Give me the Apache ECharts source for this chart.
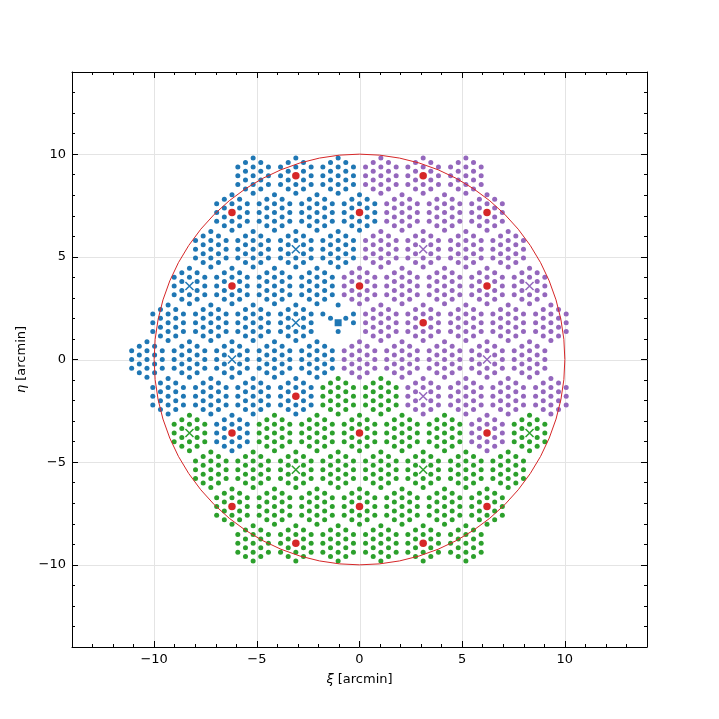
<!DOCTYPE html>
<html>
<head>
<meta charset="utf-8">
<script src="https://cdn.jsdelivr.net/npm/echarts@6/dist/echarts.min.js"></script>
<style>
  html, body { margin: 0; padding: 0; background: #fff; }
  #chart { width: 719px; height: 719px; }
</style>
</head>
<body>
<div id="chart"></div>
<script>
// bundle centres [xi, eta] in arcmin, one list per spectrograph colour
const blueBundles = [
  [-5.18, 8.95], [-3.1, 8.95], [-1.04, 8.95],
  [-6.21, 7.16], [-4.14, 7.16], [-2.07, 7.16], [0, 7.16],
  [-7.24, 5.37], [-5.18, 5.37], [-3.1, 5.37], [-1.04, 5.37],
  [-8.28, 3.58], [-6.21, 3.58], [-4.14, 3.58], [-2.07, 3.58],
  [-9.32, 1.79], [-7.24, 1.79], [-5.18, 1.79], [-3.1, 1.79], [-1.04, 1.79],
  [-10.35, 0], [-8.28, 0], [-6.21, 0], [-4.14, 0], [-2.07, 0],
  [-9.32, -1.79], [-7.24, -1.79], [-5.18, -1.79], [-3.1, -1.79],
  [-6.21, -3.58]
];
const purpleBundles = [
  [1.04, 8.95], [3.1, 8.95], [5.18, 8.95],
  [2.07, 7.16], [4.14, 7.16], [6.21, 7.16],
  [1.04, 5.37], [3.1, 5.37], [5.18, 5.37], [7.24, 5.37],
  [0, 3.58], [2.07, 3.58], [4.14, 3.58], [6.21, 3.58], [8.28, 3.58],
  [1.04, 1.79], [3.1, 1.79], [5.18, 1.79], [7.24, 1.79], [9.32, 1.79],
  [0, 0], [2.07, 0], [4.14, 0], [6.21, 0], [8.28, 0],
  [3.1, -1.79], [5.18, -1.79], [7.24, -1.79], [9.32, -1.79],
  [6.21, -3.58]
];
const greenBundles = [
  [-1.04, -1.79], [1.04, -1.79],
  [-8.28, -3.58], [-4.14, -3.58], [-2.07, -3.58], [0, -3.58], [2.07, -3.58], [4.14, -3.58], [8.28, -3.58],
  [-7.24, -5.37], [-5.18, -5.37], [-3.1, -5.37], [-1.04, -5.37], [1.04, -5.37], [3.1, -5.37], [5.18, -5.37], [7.24, -5.37],
  [-6.21, -7.16], [-4.14, -7.16], [-2.07, -7.16], [0, -7.16], [2.07, -7.16], [4.14, -7.16], [6.21, -7.16],
  [-5.18, -8.95], [-3.1, -8.95], [-1.04, -8.95], [1.04, -8.95], [3.1, -8.95], [5.18, -8.95]
];

// fibre offsets inside one 19-fibre hexagonal bundle (arcmin)
const fibreOffsets = [
  [0, 0],
  [0, 0.43], [0.372, 0.215], [0.372, -0.215], [0, -0.43], [-0.372, -0.215], [-0.372, 0.215],
  [0, 0.86], [0.372, 0.645], [0.745, 0.43], [0.745, 0], [0.745, -0.43], [0.372, -0.645],
  [0, -0.86], [-0.372, -0.645], [-0.745, -0.43], [-0.745, 0], [-0.745, 0.43], [-0.372, 0.645]
];
// the half-empty bundle round the blue square
const sparseOffsets = [
  [0.372, 0.215], [-0.372, 0.215], [0, -0.43],
  [0, 0.86], [0.745, 0.43], [0.745, 0], [-0.745, 0.43]
];

const redCentres = [
  [-3.1, 8.95], [3.1, 8.95],
  [-6.21, 7.16], [0, 7.16], [6.21, 7.16],
  [-6.21, 3.58], [0, 3.58], [6.21, 3.58],
  [3.1, 1.79], [-3.1, -1.79],
  [-6.21, -3.58], [0, -3.58], [6.21, -3.58],
  [-6.21, -7.16], [0, -7.16], [6.21, -7.16],
  [-3.1, -8.95], [3.1, -8.95]
];
const blueCrosses = [[-3.1, 5.37], [-8.28, 3.58], [-6.21, 0], [-3.1, 1.79]];
const purpleCrosses = [[3.1, 5.37], [8.28, 3.58], [6.21, 0], [3.1, -1.79]];
const greenCrosses = [[-8.28, -3.58], [8.28, -3.58], [-3.1, -5.37], [3.1, -5.37]];
const squareCentre = [[-1.04, 1.79]];

const circleRadius = [10];
const majorTicks = [-10, -5, 0, 5, 10];

const BLUE = '#1f77b4', PURPLE = '#9467bd', GREEN = '#2ca02c', RED = '#d62728';
const FONT = 'DejaVu Sans';

const markers = redCentres.concat(blueCrosses, purpleCrosses, greenCrosses);
const same = (a, b) => Math.abs(a[0] - b[0]) < 1e-6 && Math.abs(a[1] - b[1]) < 1e-6;

function buildFibres(bundles) {
    const pts = [];
    bundles.forEach(c => {
        const isSquare = squareCentre.some(s => same(s, c));
        const hasMarker = markers.some(m => same(m, c));
        const offs = isSquare ? sparseOffsets : fibreOffsets;
        offs.forEach(o => {
            if (hasMarker && o[0] === 0 && o[1] === 0) return;
            pts.push([c[0] + o[0], c[1] + o[1]]);
        });
    });
    return pts;
}

const minus = v => (v < 0 ? '\u2212' + Math.abs(v) : String(v));
const crossPath = 'path://M0 0L10 10M0 10L10 0';

// every axis keeps to the frame edge (onZero off), minor ticks every 1
function minorAxis(pos) {
    return {
        type: 'value', min: -14, max: 14, interval: 1, position: pos,
        axisLine: {show: true, onZero: false, lineStyle: {color: '#000', width: 1}},
        axisTick: {show: true, inside: true, length: 3, lineStyle: {color: '#000', width: 1}},
        axisLabel: {show: false},
        splitLine: {show: false}
    };
}
function majorAxis(pos, labels, extra) {
    return Object.assign({
        type: 'value', min: -14, max: 14, position: pos,
        axisLine: {show: false, onZero: false},
        axisTick: {show: true, inside: true, length: 6, customValues: majorTicks, lineStyle: {color: '#000', width: 1}},
        axisLabel: {show: labels, customValues: majorTicks, formatter: minus, color: '#000', fontFamily: FONT, fontSize: 13, margin: 6},
        splitLine: {show: false}
    }, extra || {});
}
const nameStyle = {
    color: '#000', fontFamily: FONT, fontSize: 13,
    rich: {i: {fontStyle: 'italic', fontFamily: FONT, fontSize: 13, color: '#000'}}
};

const chart = echarts.init(document.getElementById('chart'), null, {renderer: 'canvas'});

const option = {
    animation: false,
    backgroundColor: '#fff',
    grid: {left: 72, top: 72, width: 575, height: 575, show: false},
    xAxis: [
        minorAxis('bottom'),
        minorAxis('top'),
        majorAxis('bottom', true, {name: '{i|ξ} [arcmin]', nameLocation: 'middle', nameGap: 26, nameTextStyle: nameStyle}),
        majorAxis('top', false)
    ],
    yAxis: [
        minorAxis('left'),
        minorAxis('right'),
        majorAxis('left', true, {name: '{i|η} [arcmin]', nameLocation: 'middle', nameGap: 42, nameTextStyle: nameStyle}),
        majorAxis('right', false)
    ],
    series: [
        {
            // grid lines at the major ticks
            type: 'custom', z: 0, silent: true, clip: false,
            data: majorTicks.map(v => [v, v]),
            renderItem: function (params, api) {
                const p = api.coord([api.value(0), api.value(1)]);
                const cs = params.coordSys;
                const px = Math.round(p[0]) + 0.5, py = Math.round(p[1]) + 0.5;
                const st = {stroke: '#e4e4e4', lineWidth: 1};
                return {
                    type: 'group', children: [
                        {type: 'line', shape: {x1: px, y1: cs.y, x2: px, y2: cs.y + cs.height}, style: st},
                        {type: 'line', shape: {x1: cs.x, y1: py, x2: cs.x + cs.width, y2: py}, style: st}
                    ]
                };
            }
        },
        {type: 'scatter', z: 2, symbol: 'circle', symbolSize: 5, itemStyle: {color: BLUE, opacity: 1}, data: buildFibres(blueBundles)},
        {type: 'scatter', z: 2, symbol: 'circle', symbolSize: 5, itemStyle: {color: PURPLE, opacity: 1}, data: buildFibres(purpleBundles)},
        {type: 'scatter', z: 2, symbol: 'circle', symbolSize: 5, itemStyle: {color: GREEN, opacity: 1}, data: buildFibres(greenBundles)},
        {type: 'scatter', z: 3, symbol: crossPath, symbolSize: 8, itemStyle: {color: 'none', borderColor: BLUE, borderWidth: 1.5, opacity: 1}, data: blueCrosses},
        {type: 'scatter', z: 3, symbol: crossPath, symbolSize: 8, itemStyle: {color: 'none', borderColor: PURPLE, borderWidth: 1.5, opacity: 1}, data: purpleCrosses},
        {type: 'scatter', z: 3, symbol: crossPath, symbolSize: 8, itemStyle: {color: 'none', borderColor: GREEN, borderWidth: 1.5, opacity: 1}, data: greenCrosses},
        {type: 'scatter', z: 3, symbol: 'rect', symbolSize: 7, itemStyle: {color: BLUE, opacity: 1}, data: squareCentre},
        {type: 'scatter', z: 4, symbol: 'circle', symbolSize: 7.5, itemStyle: {color: RED, opacity: 1}, data: redCentres},
        {
            // the 10 arcmin circle
            type: 'custom', z: 5, silent: true, clip: false,
            data: [[0, 0, circleRadius[0]]],
            renderItem: function (params, api) {
                const c = api.coord([api.value(0), api.value(1)]);
                const r = api.size([api.value(2), 0])[0];
                return {type: 'circle', shape: {cx: c[0], cy: c[1], r: r}, style: {fill: 'none', stroke: RED, lineWidth: 1}};
            }
        }
    ]
};

chart.setOption(option);
</script>
</body>
</html>
